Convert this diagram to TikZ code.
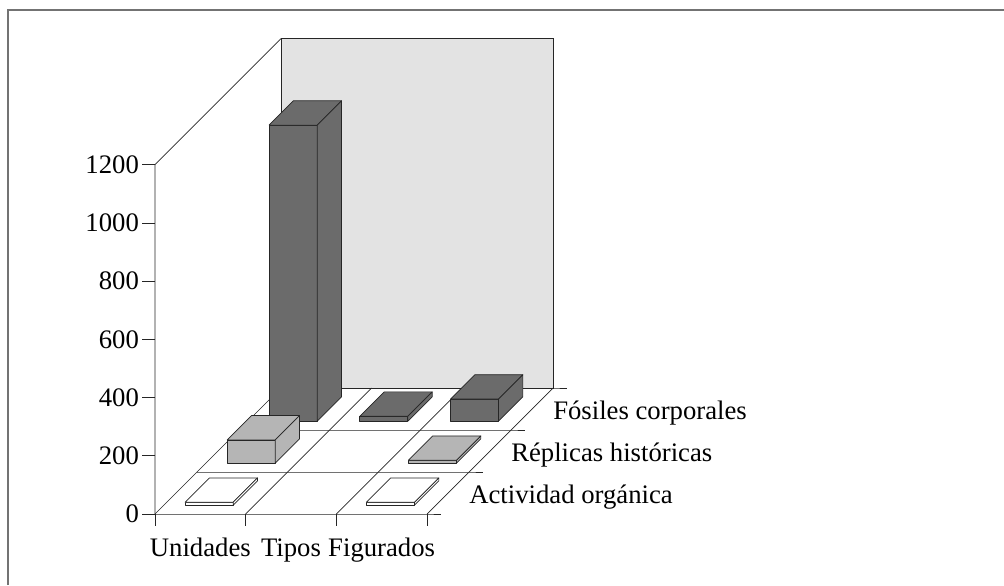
\documentclass[tikz,border=0pt]{standalone}
\usepackage{fontspec}
\setmainfont{Liberation Serif}
\usepackage{tikz}
\usetikzlibrary{calc}
\tikzset{
  % Three fill styles for the boxes, one for each series
  dark box/.style={draw=black!85,fill=black!58,line width=.5pt,line join=round},
  light box/.style={draw=black!85,fill=black!29,line width=.5pt,line join=round},
  white box/.style={draw=black!85,fill=white,line width=.5pt,line join=round},
  wall/.style={draw=black!85,fill=black!11,line width=.5pt},
  grid line/.style={draw=black!85,line width=.5pt}
}
% a box in category #1, row #2, of height #3, drawn with style #4
\newcommand{\caja}[4]{%
  \draw[#4] (#1+.235,0,#2+.21) -- (#1+.765,0,#2+.21) -- (#1+.765,#3,#2+.21) -- (#1+.235,#3,#2+.21) -- cycle;
  \draw[#4] (#1+.235,#3,#2+.21) -- (#1+.765,#3,#2+.21) -- (#1+.765,#3,#2+.79) -- (#1+.235,#3,#2+.79) -- cycle;
  \draw[#4] (#1+.765,0,#2+.21) -- (#1+.765,0,#2+.79) -- (#1+.765,#3,#2+.79) -- (#1+.765,#3,#2+.21) -- cycle;
}

\begin{document}
\begin{tikzpicture}[x={(2.2667cm,0cm)},y={(0cm,0.007275cm)},z={(1.05cm,1.05cm)},
    font=\fontsize{19}{23}\selectfont]
  \useasboundingbox (-3.875cm,-1.775cm) rectangle (21.225cm,12.85cm);
  % frame round the chart
  \draw[black!55,line width=1.5pt] (-3.675cm,-1.775cm) -- (-3.675cm,12.6cm) -- (21.225cm,12.6cm);
  % walls
  \draw[wall] (0,0,3) rectangle (3,1200,3);
  \draw[grid line] (0,0,0) -- (0,1200,0) -- (0,1200,3);
  % floor
  \foreach \c in {0,...,3} \draw[grid line] (\c,0,0) -- (\c,0,3);
  \foreach \d in {0,...,3} \draw[grid line] (0,0,\d) -- (3,0,\d) -- ++(0.35cm,0cm);
  % value axis
  \foreach \v in {0,200,...,1200} {
    \draw[grid line] (0,\v,0) -- ++(-0.33cm,0cm);
    \node (v\v) [anchor=east,inner sep=1pt,xshift=-0.36cm] at (0,\v,0) {\v};
  }
  % category axis
  \foreach \c in {0,...,3} \draw[grid line] (\c,0,0) -- ++(0cm,-0.3cm);
  \node (unidades) [anchor=base,yshift=-1.05cm] at (.5,0,0) {Unidades};
  \node (tipos) [anchor=base,yshift=-1.05cm] at (1.5,0,0) {Tipos};
  \node (figurados) [anchor=base,yshift=-1.05cm] at (2.5,0,0) {Figurados};
  % series labels
  \node (fosiles) [anchor=west,inner sep=0,xshift=.525cm,yshift=-.1cm] at (3,0,2.5) {Fósiles corporales};
  \node (replicas) [anchor=west,inner sep=0,xshift=.525cm,yshift=-.1cm] at (3,0,1.5) {Réplicas históricas};
  \node (actividad) [anchor=west,inner sep=0,xshift=.525cm,yshift=-.1cm] at (3,0,.5) {Actividad orgánica};
  % boxes, back row first
  \caja{0}{2}{1017}{dark box}
  \caja{1}{2}{17}{dark box}
  \caja{2}{2}{76}{dark box}
  \caja{0}{1}{80}{light box}
  \caja{2}{1}{10}{light box}
  \caja{0}{0}{10}{white box}
  \caja{2}{0}{10}{white box}
\end{tikzpicture}
\end{document}
